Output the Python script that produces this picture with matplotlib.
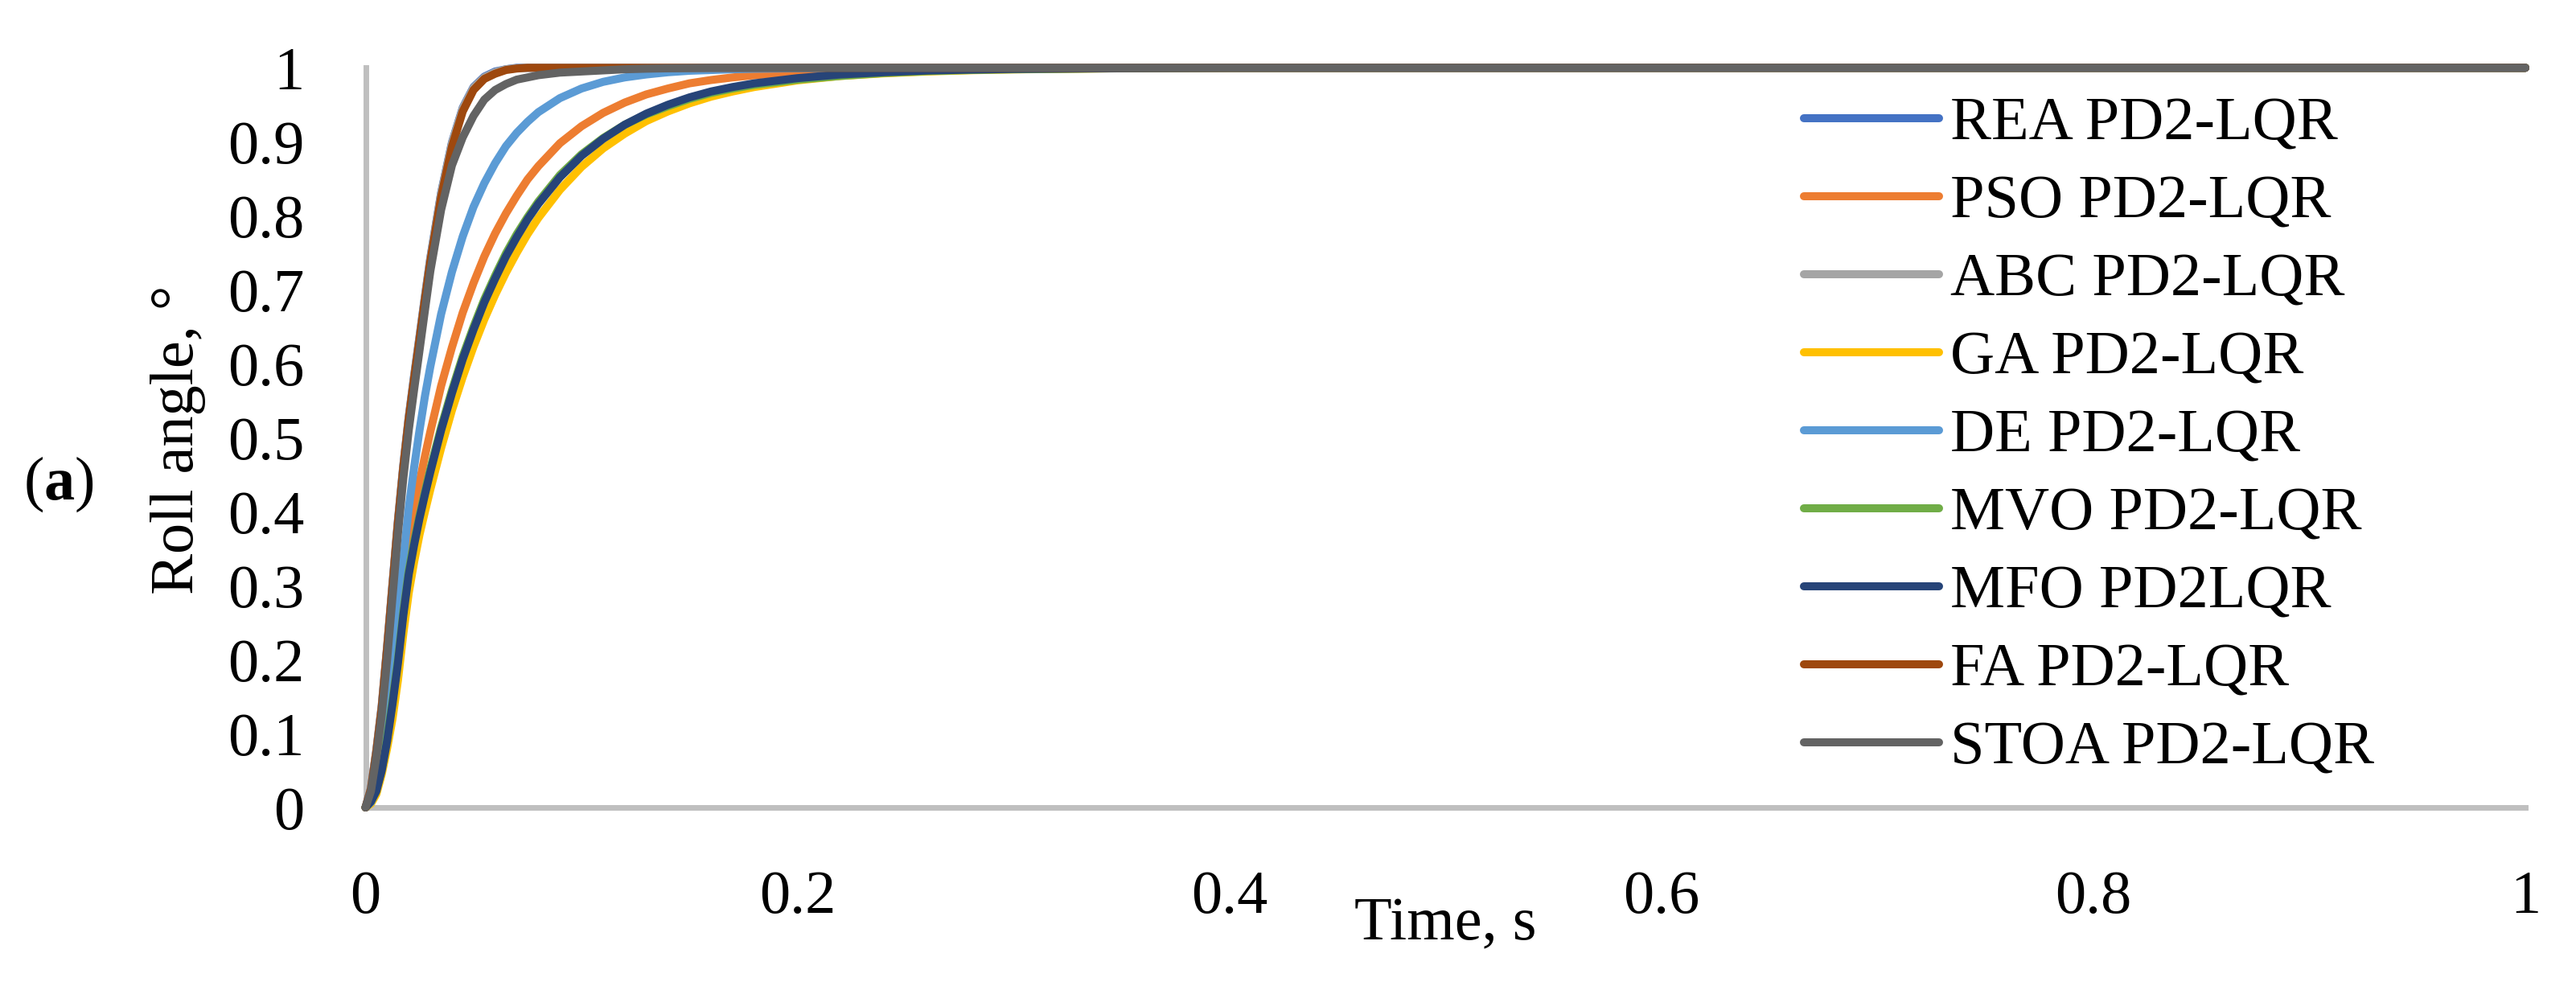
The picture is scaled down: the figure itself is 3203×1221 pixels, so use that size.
import matplotlib
matplotlib.use("Agg")
import matplotlib.pyplot as plt

plt.rcParams['font.family'] = ['Liberation Serif', 'DejaVu Serif']
plt.rcParams['mathtext.fontset'] = 'custom'
plt.rcParams['mathtext.rm'] = 'Liberation Serif'
plt.rcParams['mathtext.bf'] = 'Liberation Serif:bold'

# ---- data ----
time_s = [0, 0.0025, 0.005, 0.0075, 0.01, 0.0125, 0.015, 0.0175, 0.02, 0.0225,
          0.025, 0.0275, 0.03, 0.035, 0.04, 0.045, 0.05, 0.055, 0.06, 0.065,
          0.07, 0.075, 0.08, 0.09, 0.1, 0.11, 0.12, 0.13, 0.14, 0.15,
          0.16, 0.17, 0.18, 0.2, 0.22, 0.24, 0.26, 0.28, 0.3, 0.35,
          0.4, 0.5, 1.0]

rea = [0, 0.026, 0.077, 0.138, 0.218, 0.303, 0.388, 0.463, 0.528, 0.584,
       0.637, 0.691, 0.743, 0.831, 0.899, 0.946, 0.974, 0.988, 0.995, 0.998,
       1, 1, 1, 1, 1, 1, 1, 1, 1, 1,
       1, 1, 1, 1, 1, 1, 1, 1, 1, 1,
       1, 1, 1]
pso = [0, 0.007, 0.025, 0.055, 0.10, 0.15, 0.215, 0.29, 0.355, 0.40,
       0.44, 0.475, 0.508, 0.57, 0.622, 0.669, 0.709, 0.745, 0.776, 0.803,
       0.827, 0.849, 0.867, 0.898, 0.921, 0.939, 0.953, 0.964, 0.972, 0.979,
       0.9835, 0.987, 0.990, 0.994, 0.9966, 0.998, 0.9988, 0.9993, 0.9996, 1,
       1, 1, 1]
abc = [0, 0.026, 0.077, 0.137, 0.217, 0.302, 0.387, 0.462, 0.527, 0.583,
       0.636, 0.690, 0.742, 0.830, 0.898, 0.945, 0.973, 0.987, 0.994, 0.998,
       0.9995, 1, 1, 1, 1, 1, 1, 1, 1, 1,
       1, 1, 1, 1, 1, 1, 1, 1, 1, 1,
       1, 1, 1]
ga = [0, 0.005, 0.018, 0.045, 0.08, 0.12, 0.172, 0.235, 0.29, 0.332,
      0.369, 0.40, 0.43, 0.486, 0.537, 0.582, 0.623, 0.66, 0.693, 0.723,
      0.75, 0.775, 0.797, 0.835, 0.866, 0.891, 0.911, 0.928, 0.941, 0.952,
      0.961, 0.968, 0.974, 0.983, 0.989, 0.9925, 0.995, 0.9967, 0.9978, 0.9994,
      0.9998, 1, 1]
de = [0, 0.007, 0.025, 0.055, 0.11, 0.175, 0.26, 0.335, 0.405, 0.46,
      0.51, 0.556, 0.596, 0.667, 0.724, 0.772, 0.812, 0.844, 0.871, 0.894,
      0.912, 0.927, 0.94, 0.959, 0.972, 0.981, 0.987, 0.991, 0.994, 0.996,
      0.997, 0.998, 0.9987, 0.9994, 1, 1, 1, 1, 1, 1,
      1, 1, 1]
mvo = [0, 0.009, 0.025, 0.054, 0.095, 0.145, 0.20, 0.265, 0.32, 0.36,
       0.395, 0.427, 0.458, 0.514, 0.564, 0.61, 0.65, 0.687, 0.719, 0.749,
       0.775, 0.798, 0.819, 0.855, 0.883, 0.905, 0.923, 0.937, 0.948, 0.958,
       0.966, 0.972, 0.977, 0.984, 0.989, 0.993, 0.9955, 0.997, 0.998, 0.9993,
       1, 1, 1]
mfo = [0, 0.008, 0.022, 0.05, 0.09, 0.14, 0.195, 0.26, 0.315, 0.355,
       0.391, 0.423, 0.4535, 0.510, 0.560, 0.606, 0.646, 0.683, 0.715, 0.745,
       0.771, 0.795, 0.816, 0.852, 0.881, 0.904, 0.923, 0.938, 0.950, 0.960,
       0.968, 0.974, 0.979, 0.986, 0.991, 0.994, 0.9963, 0.9976, 0.9985, 0.9995,
       1, 1, 1]
fa = [0, 0.025, 0.075, 0.135, 0.215, 0.30, 0.385, 0.46, 0.525, 0.58,
      0.633, 0.687, 0.738, 0.825, 0.893, 0.941, 0.970, 0.985, 0.992, 0.997,
      0.999, 1, 1, 1, 1, 1, 1, 1, 1, 1,
      1, 1, 1, 1, 1, 1, 1, 1, 1, 1,
      1, 1, 1]
stoa = [0, 0.022, 0.068, 0.125, 0.20, 0.285, 0.37, 0.445, 0.51, 0.565,
        0.618, 0.672, 0.725, 0.808, 0.868, 0.906, 0.935, 0.957, 0.970, 0.978,
        0.984, 0.987, 0.990, 0.9935, 0.995, 0.9965, 0.998, 0.9988, 0.9993, 0.9996,
        1, 1, 1, 1, 1, 1, 1, 1, 1, 1,
        1, 1, 1]

series_labels = ["REA PD2-LQR", "PSO PD2-LQR", "ABC PD2-LQR", "GA PD2-LQR",
                 "DE PD2-LQR", "MVO PD2-LQR", "MFO PD2LQR", "FA PD2-LQR",
                 "STOA PD2-LQR"]
series_values = [rea, pso, abc, ga, de, mvo, mfo, fa, stoa]
series_colors = ["#4472C4", "#ED7D31", "#A5A5A5", "#FFC000", "#5B9BD5",
                 "#70AD47", "#264478", "#9E480E", "#636363"]

x_ticks = [0, 0.2, 0.4, 0.6, 0.8, 1.0]
x_tick_labels = ["0", "0.2", "0.4", "0.6", "0.8", "1"]
y_ticks = [0, 0.1, 0.2, 0.3, 0.4, 0.5, 0.6, 0.7, 0.8, 0.9, 1.0]
y_tick_labels = ["0", "0.1", "0.2", "0.3", "0.4", "0.5", "0.6", "0.7", "0.8", "0.9", "1"]

# ---- figure ----
W, H, DPI = 3203, 1221, 100
fig = plt.figure(figsize=(W / DPI, H / DPI), dpi=DPI)
ax = fig.add_axes([454.5 / W, 1 - 1004 / H, (3140 - 454.5) / W, (1004 - 84.3) / H])

FS = 55
LW = 7.2
for lab, vals, col in zip(series_labels, series_values, series_colors):
    ax.plot(time_s, vals, color=col, lw=LW, label=lab, clip_on=False,
            solid_capstyle='round', solid_joinstyle='round')

ax.set_xlim(0, 1)
ax.set_ylim(0, 1)
for side in ("top", "right"):
    ax.spines[side].set_visible(False)
for side in ("left", "bottom"):
    ax.spines[side].set_color("#BFBFBF")
    ax.spines[side].set_linewidth(5)
    ax.spines[side].set_zorder(0.5)

ax.set_xticks(x_ticks)
ax.set_xticklabels(x_tick_labels)
ax.set_yticks(y_ticks)
ax.set_yticklabels(y_tick_labels)
ax.tick_params(axis='both', length=0, labelsize=FS)
ax.tick_params(axis='x', pad=56)
ax.tick_params(axis='y', pad=55)

# axis titles
fig.text(1797 / W, 1 - 1168 / H, "Time, s", fontsize=FS, ha='center', va='baseline')
fig.text(222 / W, 1 - 547 / H, "Roll angle, \u00b0", fontsize=FS, rotation=90,
         ha='center', va='center')
fig.text(73 / W, 1 - 602 / H, r"($\mathbf{a}$)", fontsize=FS, ha='center', va='center')

leg = ax.legend(loc='upper left', bbox_to_anchor=(2243 / W, 1 - 120 / H),
                bbox_transform=fig.transFigure, frameon=False, fontsize=FS,
                handlelength=2.2, handletextpad=0.18, labelspacing=0.36,
                borderpad=0, borderaxespad=0)

fig.savefig("out.png", dpi=DPI, facecolor="white")
